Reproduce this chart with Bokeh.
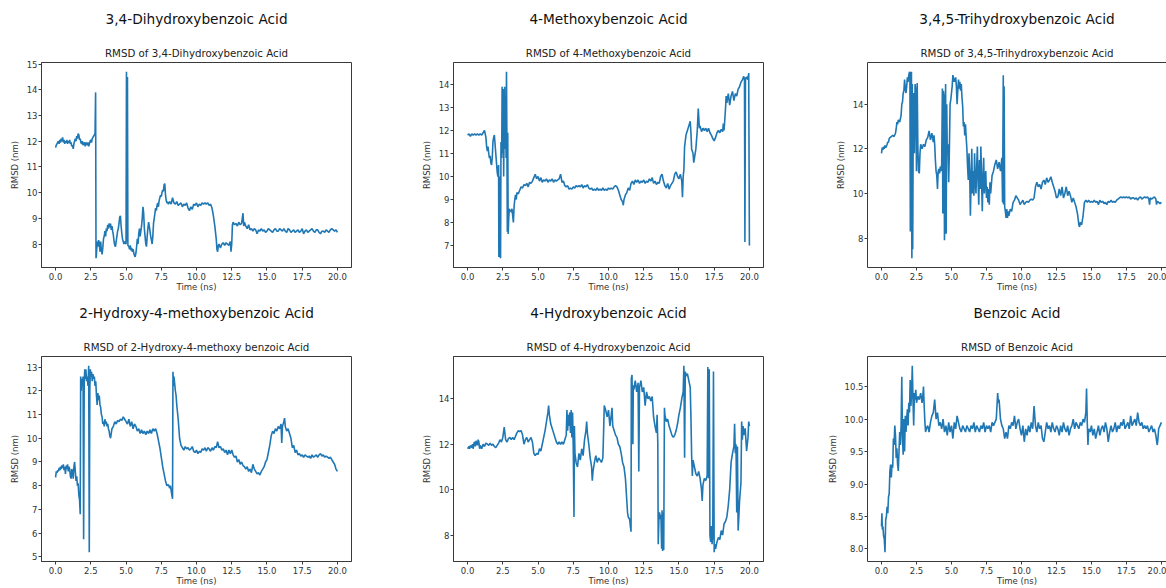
from bokeh.plotting import figure
from bokeh.layouts import gridplot
from bokeh.models import Title, FixedTicker, NumeralTickFormatter, LinearAxis, Range1d
from bokeh.embed import file_html
from bokeh.resources import INLINE

# ---------------- data (time in ns, RMSD in nm) ----------------
titles = ["3,4-Dihydroxybenzoic Acid", "4-Methoxybenzoic Acid", "3,4,5-Trihydroxybenzoic Acid",
          "2-Hydroxy-4-methoxybenzoic Acid", "4-Hydroxybenzoic Acid", "Benzoic Acid"]
subtitles = ["RMSD of 3,4-Dihydroxybenzoic Acid", "RMSD of 4-Methoxybenzoic Acid",
             "RMSD of 3,4,5-Trihydroxybenzoic Acid", "RMSD of 2-Hydroxy-4-methoxy benzoic Acid",
             "RMSD of 4-Hydroxybenzoic Acid", "RMSD of Benzoic Acid"]
x_label = "Time (ns)"
y_label = "RMSD (nm)"
x_ticks = [0, 2.5, 5, 7.5, 10, 12.5, 15, 17.5, 20]
y_ticks = [[8, 9, 10, 11, 12, 13, 14, 15], [7, 8, 9, 10, 11, 12, 13, 14], [8, 10, 12, 14],
           [5, 6, 7, 8, 9, 10, 11, 12, 13], [8, 10, 12, 14], [8.0, 8.5, 9.0, 9.5, 10.0, 10.5]]
y_formats = ["0", "0", "0", "0", "0", "0.0"]

dihydroxy = [(0.0,11.75),(0.05,11.85),(0.1,11.9),(0.15,11.95),(0.2,12.0),(0.25,11.9),(0.3,12.05),(0.35,11.95),(0.4,12.1),(0.45,12.0),(0.5,12.15),(0.55,11.95),(0.6,12.05),(0.65,11.9),(0.7,12.0),(0.75,11.95),(0.8,12.05),(0.85,11.9),(0.9,12.0),(0.95,11.95),(1.0,12.05),(1.05,11.9),(1.1,11.95),(1.15,11.8),(1.2,11.85),(1.25,11.7),(1.3,11.9),(1.35,12.0),(1.4,12.1),(1.45,12.0),(1.5,12.2),(1.55,12.1),(1.6,12.3),(1.65,12.25),(1.7,12.05),(1.75,12.1),(1.8,11.95),(1.85,11.9),(1.9,12.0),(1.95,11.85),(2.0,11.9),(2.05,11.95),(2.1,11.8),(2.15,11.95),(2.2,11.9),(2.25,11.85),(2.3,11.95),(2.35,11.8),(2.4,11.9),(2.45,12.0),(2.5,12.05),(2.55,11.95),(2.6,12.1),(2.65,12.15),(2.7,12.2),(2.75,12.25),(2.8,12.3),(2.84,13.9),(2.87,7.45),(2.9,7.6),(2.95,8.1),(3.0,7.9),(3.05,8.15),(3.1,8.05),(3.15,7.7),(3.2,8.1),(3.25,7.75),(3.3,7.6),(3.35,7.85),(3.4,8.2),(3.45,8.3),(3.5,8.5),(3.55,8.3),(3.6,8.6),(3.65,8.5),(3.7,8.75),(3.75,8.6),(3.8,8.8),(3.85,8.65),(3.9,8.8),(3.95,8.55),(4.0,8.7),(4.05,8.5),(4.1,8.35),(4.15,8.1),(4.2,7.95),(4.25,7.9),(4.3,8.1),(4.35,8.3),(4.4,8.5),(4.45,8.6),(4.5,8.8),(4.55,9.05),(4.6,9.1),(4.65,8.7),(4.7,8.4),(4.75,8.2),(4.8,8.1),(4.85,8.0),(4.9,8.1),(4.95,8.05),(5.0,8.0),(5.03,14.7),(5.07,8.1),(5.1,14.5),(5.13,7.95),(5.2,7.9),(5.25,7.8),(5.3,7.95),(5.35,7.75),(5.4,7.85),(5.45,7.7),(5.5,7.8),(5.55,7.65),(5.6,7.55),(5.65,7.5),(5.7,7.65),(5.75,7.9),(5.8,8.2),(5.85,8.0),(5.9,8.4),(5.95,8.6),(6.0,8.3),(6.05,8.5),(6.1,8.7),(6.15,9.0),(6.2,9.45),(6.25,9.2),(6.3,8.6),(6.35,8.3),(6.4,8.0),(6.45,7.9),(6.5,8.3),(6.55,8.6),(6.6,8.85),(6.65,8.7),(6.7,8.5),(6.75,8.3),(6.8,8.15),(6.85,8.0),(6.9,8.3),(6.95,8.8),(7.0,9.0),(7.05,9.2),(7.1,9.4),(7.15,9.3),(7.2,9.5),(7.25,9.6),(7.3,9.45),(7.35,9.7),(7.4,9.8),(7.45,9.9),(7.5,9.85),(7.55,10.0),(7.6,10.1),(7.65,10.05),(7.7,10.3),(7.75,10.35),(7.8,9.9),(7.85,9.7),(7.9,9.6),(7.95,9.65),(8.0,9.55),(8.1,9.65),(8.2,9.55),(8.3,9.8),(8.4,9.6),(8.5,9.55),(8.6,9.65),(8.7,9.5),(8.8,9.55),(8.9,9.6),(9.0,9.45),(9.1,9.55),(9.2,9.5),(9.3,9.6),(9.4,9.4),(9.5,9.3),(9.6,9.45),(9.7,9.35),(9.8,9.55),(9.9,9.5),(10.0,9.6),(10.1,9.45),(10.2,9.55),(10.3,9.5),(10.4,9.6),(10.5,9.55),(10.6,9.6),(10.7,9.55),(10.8,9.6),(10.9,9.5),(11.0,9.55),(11.1,9.4),(11.2,9.1),(11.3,8.7),(11.4,8.2),(11.45,7.8),(11.5,7.7),(11.55,7.95),(11.6,8.0),(11.7,7.85),(11.8,8.0),(11.9,8.05),(12.0,7.95),(12.1,8.05),(12.2,8.0),(12.3,7.95),(12.4,8.1),(12.45,7.7),(12.5,8.0),(12.55,8.75),(12.6,8.85),(12.7,8.75),(12.8,8.8),(12.9,8.7),(13.0,8.85),(13.1,8.75),(13.2,8.8),(13.3,9.2),(13.35,8.7),(13.4,8.85),(13.5,8.7),(13.6,8.6),(13.7,8.75),(13.8,8.55),(13.9,8.6),(14.0,8.5),(14.1,8.6),(14.2,8.55),(14.3,8.4),(14.4,8.55),(14.5,8.5),(14.6,8.6),(14.7,8.5),(14.8,8.55),(14.9,8.45),(15.0,8.5),(15.1,8.6),(15.2,8.55),(15.3,8.5),(15.4,8.45),(15.5,8.55),(15.6,8.6),(15.7,8.5),(15.8,8.5),(15.9,8.6),(16.0,8.55),(16.1,8.5),(16.2,8.6),(16.3,8.5),(16.4,8.45),(16.5,8.6),(16.6,8.55),(16.7,8.45),(16.8,8.5),(16.9,8.55),(17.0,8.45),(17.1,8.5),(17.2,8.55),(17.3,8.45),(17.4,8.5),(17.5,8.6),(17.6,8.4),(17.7,8.5),(17.8,8.55),(17.9,8.45),(18.0,8.5),(18.1,8.55),(18.2,8.6),(18.3,8.5),(18.4,8.45),(18.5,8.55),(18.6,8.55),(18.7,8.45),(18.8,8.4),(18.9,8.5),(19.0,8.5),(19.1,8.45),(19.2,8.55),(19.3,8.5),(19.4,8.45),(19.5,8.55),(19.6,8.6),(19.7,8.55),(19.8,8.5),(19.9,8.55),(20.0,8.45)]

methoxy = [(0.0,11.8),(0.1,11.85),(0.2,11.75),(0.3,11.85),(0.4,11.8),(0.5,11.85),(0.6,11.8),(0.7,11.85),(0.8,11.8),(0.9,11.85),(1.0,11.8),(1.1,11.9),(1.2,12.0),(1.3,11.7),(1.35,11.3),(1.4,11.1),(1.45,11.3),(1.5,11.0),(1.55,10.8),(1.6,10.9),(1.65,10.6),(1.7,10.5),(1.75,10.8),(1.8,11.5),(1.85,11.7),(1.9,11.8),(1.95,11.4),(2.0,11.0),(2.05,10.6),(2.1,10.2),(2.15,10.0),(2.2,10.5),(2.22,6.5),(2.28,10.0),(2.3,6.55),(2.34,6.45),(2.37,11.5),(2.42,10.8),(2.45,13.9),(2.5,11.0),(2.53,13.8),(2.56,10.0),(2.6,12.5),(2.63,13.9),(2.66,11.2),(2.7,13.5),(2.73,10.8),(2.76,14.55),(2.79,11.5),(2.82,7.6),(2.85,11.9),(2.88,7.5),(2.92,8.2),(2.96,8.6),(3.0,8.5),(3.05,8.55),(3.1,8.45),(3.15,8.6),(3.2,8.3),(3.25,8.0),(3.3,8.7),(3.35,9.0),(3.4,9.2),(3.45,9.0),(3.5,9.3),(3.6,9.25),(3.7,9.4),(3.8,9.55),(3.9,9.5),(4.0,9.65),(4.1,9.6),(4.2,9.7),(4.3,9.55),(4.4,9.75),(4.5,9.7),(4.6,9.8),(4.7,9.95),(4.8,10.1),(4.9,9.9),(5.0,10.0),(5.1,9.8),(5.2,9.95),(5.3,9.75),(5.4,9.85),(5.5,9.8),(5.6,9.9),(5.7,9.75),(5.8,9.85),(5.9,9.8),(6.0,9.9),(6.1,9.75),(6.2,9.85),(6.3,9.8),(6.4,9.85),(6.5,9.9),(6.6,10.1),(6.7,9.75),(6.8,9.8),(6.9,9.6),(7.0,9.55),(7.1,9.6),(7.2,9.45),(7.3,9.5),(7.4,9.45),(7.5,9.55),(7.6,9.5),(7.7,9.6),(7.8,9.55),(7.9,9.6),(8.0,9.55),(8.1,9.65),(8.2,9.5),(8.3,9.6),(8.4,9.55),(8.5,9.65),(8.6,9.5),(8.7,9.45),(8.8,9.5),(8.9,9.4),(9.0,9.45),(9.1,9.4),(9.2,9.5),(9.3,9.4),(9.4,9.45),(9.5,9.4),(9.6,9.5),(9.7,9.4),(9.8,9.45),(9.9,9.4),(10.0,9.5),(10.1,9.45),(10.2,9.5),(10.3,9.45),(10.4,9.55),(10.5,9.6),(10.6,9.55),(10.7,9.4),(10.8,9.2),(10.9,9.0),(11.0,8.9),(11.05,8.75),(11.1,9.0),(11.2,9.2),(11.3,9.3),(11.4,9.5),(11.5,9.4),(11.6,9.7),(11.7,9.8),(11.8,9.65),(11.9,9.85),(12.0,9.75),(12.1,9.85),(12.2,9.7),(12.3,9.8),(12.4,9.75),(12.5,9.85),(12.6,9.7),(12.7,9.8),(12.8,9.75),(12.9,9.9),(13.0,9.8),(13.1,9.95),(13.2,9.7),(13.3,9.8),(13.4,9.65),(13.5,9.75),(13.6,9.7),(13.7,10.0),(13.8,10.1),(13.9,9.8),(14.0,9.6),(14.1,9.5),(14.2,9.7),(14.3,9.45),(14.4,9.6),(14.5,9.7),(14.6,9.8),(14.7,10.1),(14.8,10.2),(14.9,10.0),(15.0,9.9),(15.1,10.1),(15.2,9.8),(15.25,9.1),(15.3,10.0),(15.35,10.3),(15.4,11.3),(15.5,11.8),(15.6,12.0),(15.7,12.2),(15.8,12.4),(15.85,11.9),(15.9,11.2),(16.0,11.0),(16.05,10.6),(16.1,10.8),(16.2,11.2),(16.3,12.0),(16.37,12.95),(16.45,12.1),(16.5,12.2),(16.6,11.95),(16.7,12.1),(16.8,12.0),(16.9,12.1),(17.0,11.95),(17.1,12.1),(17.2,11.9),(17.3,11.8),(17.4,11.65),(17.5,11.55),(17.6,11.7),(17.7,11.9),(17.8,12.0),(17.9,11.9),(18.0,12.05),(18.1,11.95),(18.15,12.3),(18.2,12.0),(18.3,12.9),(18.35,13.5),(18.4,13.2),(18.5,13.6),(18.6,13.1),(18.7,13.5),(18.8,13.7),(18.9,13.3),(19.0,13.6),(19.1,13.5),(19.2,13.8),(19.3,13.9),(19.4,14.1),(19.5,14.2),(19.6,14.35),(19.65,14.2),(19.68,7.15),(19.72,14.3),(19.8,14.25),(19.85,14.35),(19.9,14.2),(19.95,14.5),(20.0,7.0)]

trihydroxy = [(0.0,11.8),(0.05,12.05),(0.1,11.95),(0.15,12.1),(0.2,12.0),(0.25,12.15),(0.3,12.05),(0.4,12.2),(0.45,12.3),(0.5,12.3),(0.55,12.45),(0.6,12.5),(0.7,12.55),(0.8,12.6),(0.9,12.55),(1.0,12.7),(1.05,12.9),(1.1,13.2),(1.15,13.1),(1.2,13.3),(1.3,13.2),(1.4,13.5),(1.45,14.0),(1.5,14.1),(1.55,14.5),(1.6,14.6),(1.65,15.1),(1.7,14.7),(1.75,14.5),(1.8,14.8),(1.85,15.2),(1.9,15.0),(1.95,15.3),(2.0,15.45),(2.03,15.4),(2.06,8.3),(2.1,15.3),(2.14,15.45),(2.17,7.1),(2.2,14.9),(2.23,7.5),(2.27,13.8),(2.3,14.5),(2.35,11.8),(2.4,14.9),(2.45,14.6),(2.5,11.0),(2.55,14.95),(2.6,12.0),(2.65,11.0),(2.7,10.9),(2.75,11.8),(2.8,12.2),(2.9,12.0),(3.0,12.2),(3.1,12.1),(3.2,12.4),(3.3,12.5),(3.4,12.8),(3.5,12.4),(3.6,12.7),(3.7,12.3),(3.75,12.6),(3.8,12.2),(3.85,11.5),(3.9,11.0),(3.95,10.8),(4.0,10.2),(4.05,11.0),(4.1,11.1),(4.15,10.9),(4.2,11.2),(4.25,11.0),(4.3,11.3),(4.35,14.7),(4.38,9.1),(4.42,14.6),(4.46,14.4),(4.5,7.9),(4.55,12.0),(4.58,14.9),(4.62,8.2),(4.66,14.0),(4.7,11.8),(4.75,12.2),(4.8,10.5),(4.85,12.0),(4.9,14.0),(4.95,14.2),(5.0,14.5),(5.05,14.8),(5.1,15.3),(5.2,15.0),(5.3,15.2),(5.35,14.8),(5.4,14.0),(5.45,14.6),(5.5,15.1),(5.55,14.7),(5.6,15.0),(5.65,14.6),(5.7,14.9),(5.75,14.3),(5.8,13.9),(5.85,13.0),(5.9,13.2),(5.95,12.6),(6.0,13.1),(6.05,12.5),(6.1,12.0),(6.15,11.2),(6.2,10.6),(6.25,11.8),(6.3,11.0),(6.35,9.0),(6.4,10.5),(6.45,12.0),(6.5,10.0),(6.55,11.0),(6.6,9.9),(6.65,11.8),(6.7,10.5),(6.75,10.0),(6.8,11.2),(6.85,12.1),(6.9,10.5),(6.95,9.5),(7.0,11.5),(7.05,10.2),(7.1,12.1),(7.15,10.6),(7.2,9.2),(7.25,10.8),(7.3,11.6),(7.35,10.0),(7.4,10.6),(7.45,11.0),(7.5,9.8),(7.55,10.3),(7.6,9.6),(7.65,10.2),(7.7,9.5),(7.75,10.5),(7.8,10.0),(7.9,10.8),(8.0,11.0),(8.1,11.3),(8.2,11.5),(8.3,11.1),(8.4,11.4),(8.5,11.0),(8.6,11.6),(8.65,9.6),(8.7,15.3),(8.72,9.5),(8.76,14.8),(8.8,9.4),(8.85,9.2),(8.9,8.9),(8.95,9.3),(9.0,8.9),(9.05,9.2),(9.1,9.0),(9.2,9.3),(9.3,9.2),(9.4,9.6),(9.5,9.7),(9.6,9.9),(9.7,9.8),(9.8,9.7),(9.9,9.5),(10.0,9.6),(10.1,9.7),(10.2,9.5),(10.3,9.6),(10.4,9.65),(10.5,9.6),(10.6,9.7),(10.7,9.75),(10.8,9.7),(10.9,9.8),(11.0,10.3),(11.1,10.5),(11.2,10.3),(11.3,10.4),(11.4,10.2),(11.5,10.5),(11.6,10.6),(11.7,10.4),(11.8,10.7),(11.9,10.5),(12.0,10.6),(12.1,10.75),(12.2,10.5),(12.3,10.3),(12.4,10.1),(12.5,9.8),(12.6,9.85),(12.7,10.2),(12.8,9.9),(12.9,10.3),(13.0,9.8),(13.1,10.0),(13.2,10.3),(13.3,9.9),(13.4,10.1),(13.5,9.9),(13.6,9.6),(13.7,9.8),(13.8,9.6),(13.9,9.4),(14.0,9.1),(14.1,8.6),(14.15,8.5),(14.2,8.7),(14.3,8.6),(14.4,9.0),(14.5,9.6),(14.6,9.7),(14.7,9.6),(14.8,9.7),(14.9,9.6),(15.0,9.65),(15.1,9.6),(15.2,9.7),(15.3,9.6),(15.4,9.65),(15.5,9.5),(15.6,9.7),(15.7,9.6),(15.8,9.65),(15.9,9.55),(16.0,9.6),(16.1,9.5),(16.2,9.65),(16.3,9.6),(16.4,9.7),(16.5,9.6),(16.6,9.65),(16.7,9.6),(16.8,9.7),(16.9,9.75),(17.0,9.8),(17.1,9.85),(17.2,9.8),(17.3,9.85),(17.4,9.8),(17.5,9.85),(17.6,9.8),(17.7,9.85),(17.8,9.75),(17.9,9.8),(18.0,9.8),(18.1,9.75),(18.2,9.8),(18.3,9.7),(18.4,9.8),(18.5,9.85),(18.6,9.75),(18.7,9.8),(18.8,9.85),(18.9,9.8),(19.0,9.85),(19.1,9.75),(19.15,9.5),(19.2,9.8),(19.3,9.75),(19.4,9.8),(19.5,9.85),(19.6,9.75),(19.65,9.5),(19.7,9.65),(19.8,9.6),(19.9,9.55),(20.0,9.6)]

hydroxy_methoxy = [(0.0,8.35),(0.05,8.6),(0.1,8.55),(0.15,8.65),(0.2,8.6),(0.25,8.75),(0.3,8.65),(0.35,8.8),(0.4,8.7),(0.45,8.85),(0.5,8.75),(0.55,8.9),(0.6,8.65),(0.65,8.8),(0.7,8.5),(0.75,8.85),(0.8,8.7),(0.85,8.9),(0.9,8.6),(0.95,8.8),(1.0,8.7),(1.05,8.4),(1.1,8.3),(1.15,8.7),(1.2,8.6),(1.25,8.3),(1.3,8.8),(1.35,9.0),(1.4,8.6),(1.45,8.2),(1.5,8.4),(1.55,8.0),(1.6,8.1),(1.65,7.6),(1.7,7.4),(1.75,6.8),(1.78,12.6),(1.82,12.0),(1.86,12.5),(1.9,12.2),(1.95,12.6),(1.99,5.75),(2.03,12.3),(2.07,12.9),(2.1,12.5),(2.15,12.9),(2.2,12.4),(2.25,12.6),(2.3,12.2),(2.35,13.05),(2.39,5.2),(2.43,12.1),(2.47,12.9),(2.5,12.6),(2.55,12.8),(2.6,12.4),(2.65,12.7),(2.7,12.5),(2.75,12.6),(2.8,12.2),(2.85,12.4),(2.9,11.8),(2.95,11.4),(3.0,11.9),(3.05,11.6),(3.1,11.8),(3.15,11.4),(3.2,11.3),(3.25,11.0),(3.3,10.9),(3.35,10.6),(3.4,10.7),(3.45,10.5),(3.5,10.8),(3.55,10.6),(3.6,10.7),(3.65,10.5),(3.7,10.6),(3.75,10.4),(3.8,10.3),(3.85,10.1),(3.9,10.0),(3.95,10.2),(4.0,10.4),(4.1,10.5),(4.2,10.7),(4.3,10.6),(4.4,10.75),(4.5,10.7),(4.6,10.8),(4.7,10.75),(4.8,10.9),(4.9,10.8),(5.0,10.7),(5.1,10.6),(5.2,10.8),(5.3,10.5),(5.4,10.7),(5.5,10.4),(5.6,10.6),(5.7,10.5),(5.8,10.3),(5.9,10.4),(6.0,10.2),(6.1,10.35),(6.2,10.2),(6.3,10.3),(6.4,10.15),(6.5,10.3),(6.6,10.2),(6.7,10.35),(6.8,10.2),(6.9,10.4),(7.0,10.3),(7.1,10.4),(7.2,10.2),(7.3,9.9),(7.4,9.6),(7.5,9.2),(7.6,8.8),(7.7,8.5),(7.8,8.2),(7.9,8.0),(8.0,8.05),(8.1,7.9),(8.15,8.0),(8.2,7.8),(8.25,7.6),(8.3,7.45),(8.33,12.8),(8.37,12.2),(8.4,12.6),(8.45,12.3),(8.5,12.0),(8.55,11.8),(8.6,11.4),(8.7,10.8),(8.8,10.0),(8.9,9.7),(9.0,9.6),(9.1,9.5),(9.2,9.65),(9.3,9.55),(9.4,9.6),(9.5,9.5),(9.6,9.55),(9.7,9.65),(9.8,9.45),(9.9,9.4),(10.0,9.5),(10.1,9.35),(10.2,9.45),(10.3,9.4),(10.4,9.55),(10.5,9.5),(10.6,9.6),(10.7,9.45),(10.8,9.6),(10.9,9.55),(11.0,9.45),(11.1,9.6),(11.2,9.5),(11.3,9.65),(11.4,9.6),(11.5,9.85),(11.6,9.6),(11.7,9.65),(11.8,9.5),(11.9,9.55),(12.0,9.4),(12.1,9.5),(12.2,9.3),(12.3,9.5),(12.4,9.35),(12.5,9.5),(12.6,9.3),(12.7,9.2),(12.8,9.25),(12.9,9.0),(13.0,9.1),(13.1,8.9),(13.2,9.0),(13.3,8.85),(13.4,8.8),(13.5,8.7),(13.6,8.8),(13.7,8.6),(13.8,8.7),(13.9,8.55),(14.0,8.9),(14.1,8.7),(14.2,8.6),(14.3,8.5),(14.4,8.55),(14.5,8.45),(14.6,8.6),(14.7,8.7),(14.8,8.8),(14.9,9.0),(15.0,9.1),(15.1,9.4),(15.2,9.7),(15.3,10.1),(15.4,10.3),(15.5,10.2),(15.6,10.4),(15.7,10.3),(15.8,10.5),(15.9,10.4),(16.0,10.6),(16.05,9.8),(16.1,10.5),(16.2,10.7),(16.25,10.85),(16.3,10.5),(16.4,10.3),(16.5,10.4),(16.6,10.2),(16.7,10.0),(16.8,9.6),(16.9,9.7),(17.0,9.4),(17.1,9.5),(17.2,9.3),(17.3,9.35),(17.4,9.25),(17.5,9.3),(17.6,9.2),(17.7,9.3),(17.8,9.25),(17.9,9.2),(18.0,9.25),(18.1,9.15),(18.2,9.3),(18.3,9.2),(18.4,9.25),(18.5,9.3),(18.6,9.2),(18.7,9.3),(18.8,9.35),(18.9,9.25),(19.0,9.3),(19.1,9.2),(19.2,9.25),(19.3,9.2),(19.4,9.15),(19.5,9.2),(19.6,9.1),(19.7,9.0),(19.8,8.9),(19.9,8.7),(20.0,8.6)]

hydroxy = [(0.0,11.8),(0.1,11.9),(0.15,11.8),(0.2,11.95),(0.3,11.85),(0.35,12.0),(0.4,11.8),(0.45,12.05),(0.5,12.1),(0.55,11.9),(0.6,12.15),(0.7,11.95),(0.75,12.2),(0.8,12.1),(0.85,11.8),(0.9,11.95),(1.0,11.8),(1.1,12.0),(1.2,11.9),(1.3,12.05),(1.4,12.0),(1.5,11.95),(1.6,12.05),(1.7,11.95),(1.8,12.0),(1.9,11.9),(2.0,11.85),(2.1,11.95),(2.2,12.05),(2.3,12.2),(2.4,12.1),(2.5,12.3),(2.6,12.75),(2.7,12.2),(2.8,12.1),(2.9,12.25),(3.0,12.3),(3.1,12.2),(3.2,12.3),(3.3,12.2),(3.4,12.35),(3.5,12.5),(3.6,12.6),(3.7,12.55),(3.8,12.6),(3.9,12.4),(4.0,12.0),(4.1,12.2),(4.2,12.3),(4.3,12.1),(4.4,12.2),(4.5,12.3),(4.6,12.1),(4.7,11.6),(4.8,11.5),(4.9,11.6),(5.0,11.55),(5.1,11.8),(5.2,11.7),(5.3,12.0),(5.4,12.3),(5.5,12.6),(5.6,13.0),(5.7,13.4),(5.75,13.7),(5.8,13.3),(5.9,12.9),(6.0,12.7),(6.1,12.5),(6.2,12.3),(6.3,12.1),(6.4,12.0),(6.5,12.1),(6.6,12.0),(6.7,12.1),(6.8,12.0),(6.9,12.2),(7.0,12.4),(7.05,13.5),(7.1,12.6),(7.15,13.3),(7.2,12.8),(7.25,13.4),(7.3,12.5),(7.35,13.5),(7.4,12.3),(7.45,13.4),(7.5,11.8),(7.55,8.8),(7.58,12.8),(7.62,11.6),(7.7,11.2),(7.8,11.0),(7.9,11.6),(8.0,11.3),(8.1,11.8),(8.2,11.5),(8.3,12.2),(8.4,12.6),(8.45,13.0),(8.5,12.5),(8.6,12.0),(8.7,11.4),(8.8,11.0),(8.85,10.4),(8.9,10.8),(9.0,11.2),(9.1,11.5),(9.2,11.2),(9.3,11.4),(9.4,11.3),(9.5,11.2),(9.6,11.4),(9.65,12.5),(9.7,13.7),(9.8,13.5),(9.9,13.2),(10.0,13.5),(10.1,12.8),(10.2,13.3),(10.25,13.6),(10.3,12.8),(10.4,12.6),(10.5,12.4),(10.6,12.3),(10.7,12.0),(10.8,11.9),(10.9,11.6),(11.0,11.2),(11.1,11.0),(11.2,10.5),(11.3,9.5),(11.35,9.0),(11.4,8.8),(11.5,8.7),(11.55,8.4),(11.6,8.15),(11.62,14.9),(11.67,15.05),(11.7,12.5),(11.73,12.0),(11.76,14.6),(11.8,14.4),(11.9,14.8),(12.0,14.3),(12.1,14.7),(12.15,10.8),(12.2,14.5),(12.3,14.8),(12.4,14.3),(12.5,14.5),(12.6,13.7),(12.7,14.3),(12.8,14.0),(12.9,14.1),(13.0,13.9),(13.1,14.1),(13.2,13.2),(13.3,12.8),(13.4,12.5),(13.45,13.3),(13.5,12.0),(13.53,7.6),(13.58,8.8),(13.62,9.0),(13.67,8.7),(13.72,8.9),(13.77,7.4),(13.8,9.1),(13.84,7.3),(13.88,9.0),(13.92,7.35),(13.97,13.6),(14.0,13.3),(14.1,13.0),(14.2,13.1),(14.3,12.8),(14.4,12.6),(14.5,12.4),(14.6,12.3),(14.7,12.4),(14.8,12.6),(14.9,12.9),(15.0,13.3),(15.1,13.6),(15.2,14.0),(15.3,14.3),(15.35,15.45),(15.4,11.4),(15.45,15.2),(15.5,15.0),(15.6,15.1),(15.7,14.8),(15.8,14.5),(15.85,13.2),(15.9,11.5),(15.95,10.6),(16.0,11.3),(16.1,11.0),(16.2,10.7),(16.3,10.6),(16.4,10.8),(16.5,10.5),(16.6,10.0),(16.65,9.5),(16.7,10.2),(16.8,10.5),(16.9,10.4),(17.0,10.6),(17.05,15.4),(17.1,10.5),(17.15,15.3),(17.2,8.0),(17.25,7.7),(17.3,8.4),(17.35,7.6),(17.4,8.0),(17.45,15.2),(17.5,7.25),(17.55,7.6),(17.6,7.4),(17.7,7.7),(17.8,7.9),(17.9,7.8),(18.0,8.2),(18.1,8.0),(18.2,8.5),(18.3,8.6),(18.4,8.8),(18.5,9.3),(18.6,10.0),(18.7,11.2),(18.8,11.6),(18.9,11.9),(18.95,12.9),(19.0,11.6),(19.05,12.0),(19.1,9.0),(19.15,11.9),(19.2,8.2),(19.25,8.8),(19.3,9.5),(19.4,10.3),(19.45,13.0),(19.5,12.2),(19.55,12.8),(19.6,12.4),(19.7,12.7),(19.8,11.7),(19.85,12.0),(19.9,12.3),(19.95,13.0),(20.0,12.8)]

benzoic = [(0.0,8.35),(0.03,8.55),(0.06,8.3),(0.1,8.35),(0.15,8.2),(0.2,8.15),(0.25,7.95),(0.3,8.45),(0.35,8.5),(0.4,8.65),(0.45,8.55),(0.5,8.8),(0.55,8.85),(0.6,9.2),(0.65,9.3),(0.7,9.1),(0.75,9.3),(0.8,9.25),(0.85,9.7),(0.9,9.6),(0.95,9.9),(1.0,9.75),(1.05,9.4),(1.1,9.55),(1.15,9.3),(1.2,9.2),(1.25,9.5),(1.3,9.8),(1.35,9.6),(1.4,9.9),(1.45,10.65),(1.5,9.7),(1.55,9.45),(1.6,10.0),(1.65,9.5),(1.7,10.05),(1.75,9.8),(1.8,10.0),(1.85,10.15),(1.9,9.9),(1.95,10.25),(2.0,10.1),(2.05,10.6),(2.1,10.2),(2.15,10.4),(2.2,10.82),(2.25,10.3),(2.3,9.9),(2.35,10.4),(2.4,10.3),(2.45,10.45),(2.5,10.25),(2.6,10.35),(2.7,10.3),(2.8,10.4),(2.9,10.25),(2.95,10.35),(3.0,10.5),(3.05,10.2),(3.1,9.95),(3.15,9.8),(3.2,9.85),(3.3,9.9),(3.4,9.8),(3.5,9.95),(3.6,10.05),(3.7,10.1),(3.8,10.3),(3.85,10.15),(3.9,10.0),(4.0,10.1),(4.1,9.9),(4.2,9.95),(4.3,9.85),(4.4,10.0),(4.5,9.8),(4.6,9.9),(4.7,9.75),(4.8,9.95),(4.9,9.8),(5.0,9.9),(5.1,9.7),(5.2,9.95),(5.3,9.85),(5.4,10.05),(5.5,9.95),(5.6,9.85),(5.7,9.8),(5.8,9.9),(5.9,9.85),(6.0,9.8),(6.1,9.9),(6.2,9.85),(6.3,9.8),(6.4,9.9),(6.5,9.85),(6.6,9.95),(6.7,9.8),(6.8,9.9),(6.9,9.85),(7.0,9.8),(7.1,9.9),(7.2,9.85),(7.3,9.95),(7.4,9.8),(7.5,9.9),(7.6,9.85),(7.7,9.9),(7.8,9.8),(7.9,9.95),(8.0,9.9),(8.1,9.95),(8.2,10.0),(8.3,10.4),(8.35,10.25),(8.4,10.3),(8.5,10.0),(8.6,9.9),(8.7,9.85),(8.8,9.7),(8.9,9.8),(9.0,9.7),(9.1,9.9),(9.2,9.85),(9.3,9.95),(9.4,9.9),(9.5,10.05),(9.6,9.85),(9.7,9.95),(9.8,10.0),(9.9,9.85),(10.0,9.75),(10.1,9.9),(10.2,9.65),(10.3,9.85),(10.4,9.75),(10.5,9.9),(10.6,9.8),(10.7,9.95),(10.8,9.85),(10.9,10.2),(11.0,9.9),(11.1,9.8),(11.2,9.95),(11.3,9.85),(11.4,9.9),(11.5,9.7),(11.6,9.65),(11.7,9.8),(11.8,9.95),(11.9,9.85),(12.0,9.9),(12.1,9.8),(12.2,9.95),(12.3,9.85),(12.4,9.8),(12.5,9.9),(12.6,9.85),(12.7,9.75),(12.8,9.9),(12.9,9.8),(13.0,9.95),(13.1,9.85),(13.2,9.8),(13.3,9.9),(13.4,9.75),(13.5,9.85),(13.6,9.9),(13.7,10.0),(13.8,9.85),(13.9,9.95),(14.0,9.9),(14.1,9.85),(14.2,9.95),(14.3,9.9),(14.4,10.0),(14.5,9.95),(14.6,10.1),(14.65,10.47),(14.7,9.95),(14.75,9.6),(14.8,9.85),(14.9,9.8),(15.0,9.9),(15.1,9.75),(15.2,9.85),(15.3,9.7),(15.4,9.8),(15.5,9.9),(15.6,9.75),(15.7,9.85),(15.8,9.9),(15.9,9.8),(16.0,9.95),(16.1,9.85),(16.2,9.65),(16.3,9.8),(16.4,9.9),(16.5,9.8),(16.6,9.85),(16.7,9.95),(16.8,9.8),(16.9,9.9),(17.0,9.85),(17.1,9.95),(17.2,9.9),(17.3,10.0),(17.4,9.85),(17.5,9.9),(17.6,9.95),(17.7,9.85),(17.8,10.05),(17.9,9.9),(18.0,9.95),(18.1,10.0),(18.2,9.9),(18.3,10.1),(18.4,9.95),(18.5,9.9),(18.6,9.95),(18.7,9.85),(18.8,9.9),(18.9,9.85),(19.0,9.9),(19.1,9.8),(19.2,9.85),(19.3,9.9),(19.4,9.8),(19.5,9.85),(19.6,9.75),(19.7,9.6),(19.75,9.7),(19.8,9.85),(19.9,9.9),(20.0,9.95)]

series = [dihydroxy, methoxy, trihydroxy, hydroxy_methoxy, hydroxy, benzoic]

# ---------------- styling ----------------
FONT = "DejaVu Sans"
LINE = "#1f77b4"
SPINE = "#3a3a3a"
TEXT = "#222222"
TICKTEXT = "#333333"
WINDOW_W = 1166
CELL_W, CELL_H = 412, 294
LEFT, TOP, BOTTOM, FRAME_W = 41, 62, 25, 310


def spine_axis():
    # tick-less axis drawn only for its line (top spine of the clipped right column)
    return LinearAxis(ticker=FixedTicker(ticks=[]), major_tick_out=0, major_tick_in=0,
                      minor_tick_out=0, minor_tick_in=0, axis_label=None,
                      major_label_text_font_size="0px", major_label_standoff=0,
                      axis_label_standoff=0, major_tick_line_color=None,
                      minor_tick_line_color=None, axis_line_color=SPINE, axis_line_width=1)


def spacer_axis(gap):
    # invisible axis whose single (white, unlabeled) tick reserves vertical space
    return LinearAxis(ticker=FixedTicker(ticks=[x_ticks[0]]), major_tick_out=gap, major_tick_in=0,
                      minor_tick_out=0, minor_tick_in=0, axis_label=None,
                      major_label_overrides={x_ticks[0]: ""}, major_label_text_color=None,
                      major_label_text_font_size="1px", major_label_standoff=0,
                      axis_label_standoff=0, major_tick_line_color="white",
                      minor_tick_line_color=None, axis_line_color=None)


def make_panel(i):
    col = i % 3
    data = series[i]
    t = [a for a, _ in data]
    r = [b for _, b in data]
    last = col == 2
    if last:
        width = WINDOW_W - 2 * CELL_W
        frame_w = width - LEFT
        right = 0
        tmin, tmax = min(t), max(t)
        span = (tmax - tmin) * 1.1
        start = tmin - 0.05 * (tmax - tmin)
        x_range = Range1d(start, start + span * frame_w / FRAME_W)
    else:
        width = CELL_W
        right = CELL_W - LEFT - FRAME_W
        x_range = None
    kw = dict(width=width, height=CELL_H, title=None, toolbar_location=None,
              output_backend="svg", min_border_left=LEFT, min_border_right=right,
              min_border_top=TOP, min_border_bottom=BOTTOM,
              background_fill_color="white", border_fill_color="white")
    if x_range is not None:
        kw["x_range"] = x_range
    p = figure(**kw)
    p.line(t, r, line_color=LINE, line_width=1.6)
    p.xgrid.visible = False
    p.ygrid.visible = False

    xax = p.below[0]
    yax = p.left[0]
    xax.ticker = FixedTicker(ticks=x_ticks)
    xax.formatter = NumeralTickFormatter(format="0.0")
    yax.ticker = FixedTicker(ticks=y_ticks[i])
    yax.formatter = NumeralTickFormatter(format=y_formats[i])
    xax.axis_label = x_label
    yax.axis_label = y_label
    for ax in (xax, yax):
        ax.axis_line_color = SPINE
        ax.axis_line_width = 1
        ax.major_tick_line_color = SPINE
        ax.major_tick_out = 3
        ax.major_tick_in = 0
        ax.minor_tick_line_color = None
        ax.major_label_text_font = FONT
        ax.major_label_text_font_size = "8.5px"
        ax.major_label_text_color = TICKTEXT
        ax.major_label_text_line_height = 1.0
        ax.axis_label_text_font = FONT
        ax.axis_label_text_font_size = "8.5px"
        ax.axis_label_text_font_style = "normal"
        ax.axis_label_text_color = TICKTEXT
        ax.axis_label_text_line_height = 1.0
    xax.major_label_standoff = 2
    xax.axis_label_standoff = -1
    yax.major_label_standoff = 1
    yax.axis_label_standoff = 4

    if last:
        p.outline_line_color = None
        p.add_layout(spine_axis(), "above")
    else:
        p.outline_line_color = SPINE
        p.outline_line_width = 1

    sub = Title(text=subtitles[i], align="center", text_font=FONT, text_font_size="10.25px",
                text_font_style="normal", text_color=TEXT, standoff=7)
    big = Title(text=titles[i], align="center", text_font=FONT, text_font_size="13.7px",
                text_font_style="normal", text_color="#111111", standoff=0)
    p.add_layout(sub, "above")
    p.add_layout(spacer_axis(15), "above")
    p.add_layout(big, "above")
    return p


panels = [make_panel(i) for i in range(6)]
grid = gridplot([panels[0:3], panels[3:6]], toolbar_location=None)

open("out.html", "w").write(file_html(grid, INLINE))
